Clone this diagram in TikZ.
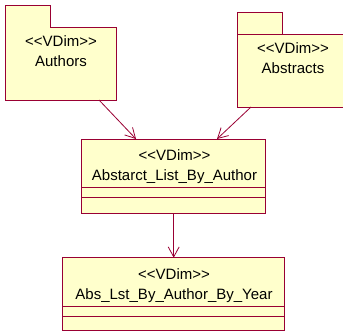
\documentclass[tikz,border=0pt]{standalone}
\usepackage{fontspec}
\setmainfont{Liberation Sans}
\usetikzlibrary{arrows.meta,calc}
\definecolor{umlfill}{RGB}{255,255,204}
\definecolor{umlline}{RGB}{153,0,51}
% stereotype brackets, kerned so that << and >> stay two characters
\newcommand\stereotype[1]{<\kern0pt<#1>\kern0pt>}
\begin{document}
\begin{tikzpicture}[x=1pt,y=-1pt,
  umlbox/.style={draw=umlline,fill=umlfill,line width=0.8pt,rectangle,inner sep=0pt,outer sep=0pt},
  pkgbody/.style={rectangle,inner sep=0pt,outer sep=0pt},
  edgeline/.style={draw=umlline,line width=0.8pt},
  lbl/.style={anchor=base,inner sep=0pt,font=\fontsize{15}{18}\selectfont},
  dep/.style={draw=umlline,line width=0.8pt,-{Straight Barb[length=10pt,width=11pt]}}]
\useasboundingbox (0,0) rectangle (343,332);

% package Authors (tab merged with the body)
\node[pkgbody,minimum width=111pt,minimum height=73pt] (authors) at (60.5,63.5) {};
\draw[edgeline,fill=umlfill] (authors.south west) -- ($(authors.north west)+(0,-22)$)
  -- ++(45,0) -- ++(0,22) -- (authors.north east) -- (authors.south east) -- cycle;
\node[lbl] (authorsst) at (61,46.5) {\stereotype{VDim}};
\node[lbl] (authorsname) at (61,66.5) {Authors};

% package Abstracts (closed tab)
\node[umlbox,minimum width=112pt,minimum height=73pt] (abstracts) at (293,70.5) {};
\draw[edgeline,fill=umlfill] (abstracts.north west) -- ++(0,-22) -- ++(45,0) -- ++(0,22) -- cycle;
\node[lbl] (abstractsst) at (293,53) {\stereotype{VDim}};
\node[lbl] (abstractsname) at (293,73) {Abstracts};

% class Abstarct_List_By_Author
\node[umlbox,minimum width=184pt,minimum height=74pt] (listauthor) at (173.7,176) {};
\draw[edgeline] ($(listauthor.north west)+(0,48.3)$) -- ($(listauthor.north east)+(0,48.3)$);
\draw[edgeline] ($(listauthor.north west)+(0,58.3)$) -- ($(listauthor.north east)+(0,58.3)$);
\node[lbl] (listauthorst) at (174.5,160) {\stereotype{VDim}};
\node[lbl] (listauthorname) at (174.5,180) {Abstarct\_List\_By\_Author};

% class Abs_Lst_By_Author_By_Year
\node[umlbox,minimum width=221.6pt,minimum height=72.3pt] (listyear) at (173.5,293.85) {};
\draw[edgeline] ($(listyear.north west)+(0,49)$) -- ($(listyear.north east)+(0,49)$);
\draw[edgeline] ($(listyear.north west)+(0,58.3)$) -- ($(listyear.north east)+(0,58.3)$);
\node[lbl] (listyearst) at (174,279) {\stereotype{VDim}};
\node[lbl] (listyearname) at (174,299.5) {Abs\_Lst\_By\_Author\_By\_Year};

% dependencies
\draw[dep] ($(authors.south west)+(94,0)$) -- ($(listauthor.north west)+(54.3,0)$);
\draw[dep] ($(abstracts.south west)+(14,0)$) -- ($(listauthor.north west)+(135.3,0)$);
\draw[dep] (listauthor.south) -- (listauthor.south |- listyear.north);
\end{tikzpicture}
\end{document}
